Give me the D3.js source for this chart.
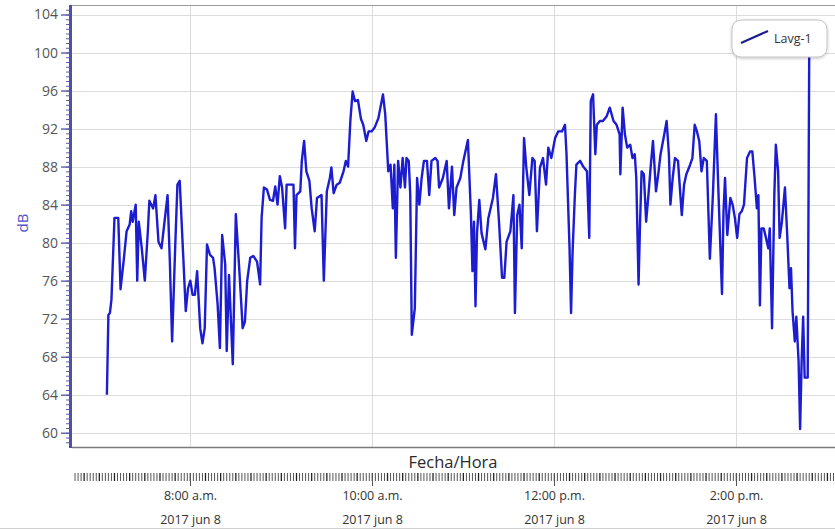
<!DOCTYPE html>
<html>
<head>
<meta charset="utf-8">
<script src="https://cdn.jsdelivr.net/npm/d3@7"></script>
<style>
  body { margin: 0; background: #fff; }
  svg { display: block; font-family: "Open Sans", sans-serif; }
</style>
</head>
<body>
<div id="chart"></div>
<script>
'use strict';

// sound level log, 8 jun 2017
// minutes = minutes after 07:00, lavg = dB
const minutes = [5,6,7,8,10,12.5,14,16,18,20,21,22,24,25,26,28,30,32,33,35.5,37,39,41,43,45,46.5,48,50,51.5,53,
  55.5,57,58.5,60,61.5,63,64.5,66.5,68,69.5,71,73,75,76,78,79.5,81,83,84,85.5,88,90,92.5,94.5,96,97.5,99.5,101.5,104,106,
  107,108.5,110.5,112.5,114.5,116,117.5,119,120.5,122.5,123.5,125.5,128,129,130,132.5,133.5,135,136.5,138.5,140,142,143.5,146.5,148,150,152,153,154.5,156.5,
  158.5,161,162.5,164,165.5,167,168.5,170.5,172.5,174,176,177.5,179.5,181.5,184,187,188.5,190.5,192,193.5,194.5,195.5,197,198.5,200,201.5,202.5,204,205,206,
  208,209.5,211,212.5,214,216,217.5,219,221.5,223,224,226.5,229,230.5,232.5,234,235.5,238,240,243,245,246,247,248,249,250.5,252,254.5,256.5,259.5,
  261.5,263.5,265.5,267,268.5,271,273,274,275.5,277,278.5,280,281.5,283.5,285.5,287,288.5,290.5,292.5,294.5,296,298,300.5,302.5,305,307,308,310,311,312,
  313.5,314.5,317,319,321.5,323,324,325.5,327,328,330,332,334.5,336.5,339,341,343,343.5,345,346.5,348,350,351.5,353,354,355.5,356.5,357.5,359,360.5,
  362,363.5,365,367,368.5,370,372,374,375.5,376.5,378,379.5,381.5,384,385.5,387,389.5,391,392.5,394,395.5,397,398.5,400.5,402.5,404.5,406.5,408,410.5,411.5,
  412.5,414,416,417.5,419,420.5,422,423.5,425,427,429,430.5,432,433.5,434.5,435.5,436.5,438,439.5,441,442,443.5,445,446,447.5,448.5,450,452,453.5,455,
  456,457,458.5,459.5,461,462,463,464,465,467,468]
const lavg = [64,72.4,72.6,74,82.6,82.6,75.1,78,81.2,81.9,83.3,82.2,84,76,82.2,79.4,76,81.2,84.4,83.6,85,80.1,79.4,82.2,85,78,69.6,79.4,86.1,86.5,
  78,72.8,75.2,76,74.5,74.5,77,71,69.4,71,79.8,78.7,78.4,77.3,73.5,68.9,80.8,77.7,68.6,76.6,67.2,83,76.6,71,71.7,76,78.4,78.6,78,75.6,
  82.6,85.8,85.6,84.5,84.4,85.9,84,87,85.8,81.5,86.1,86.1,86.1,79.4,85,85.4,88.6,90.7,87.5,86.5,83.6,81.2,84.7,85,76,85.4,86.8,87.9,85.2,86.1,
  86.3,87.5,88.6,88,92.8,95.9,94.9,95,93,92.4,90.7,91.7,91.7,92.1,93.1,95.6,93.5,87.5,88.2,83.6,88.2,78.4,88.6,85.8,88.9,85.8,88.9,88.6,85,70.3,
  73.1,86.8,84,86.8,88.6,88.6,85,88.6,88.9,88.6,85.8,86.8,88.6,83.6,88,82.9,85.8,86.8,88.6,90.8,82.9,77,82.2,73.3,81,84.5,81,79.3,82.6,84.7,
  87.2,82.2,76.3,76.3,80.1,81.2,85,72.6,82.9,84,79.4,91,87.9,85,88.9,88.6,81.2,87.9,88.9,86.1,90,88.9,91,91.7,91.7,92.4,89.3,79.4,72.6,79,
  85,88.2,88.6,88,87.5,80.5,94.9,95.6,89.3,92.4,92.8,92.8,93.3,94.2,92.8,92.4,91.4,87.2,94.2,91.4,90,90.3,88.9,89.3,86.8,75.6,82.2,87.5,87.2,82.2,
  85,88,90.7,85.4,87.2,89.3,91,92.8,89.3,84,86.8,88.9,88.6,82.9,86.1,87.2,88.2,88.9,92.4,91.7,90.7,87.5,88.9,88.6,78.3,85,93.5,86.1,74.6,83.3,
  86.8,80.8,84.7,84,82.6,80.5,83,83.3,84,88.9,89.6,89.6,86.8,83.6,85,73.4,81.5,81.5,80.5,79.4,81.5,71,85,90.3,87.5,80.5,82.2,85.8,80.8,75.2,
  77.3,72.8,69.6,72.2,67.5,60.4,67.5,72.2,65.8,65.8,100]

const yTicks = [60,64,68,72,76,80,84,88,92,96,100,104]
const xTickHours = [8,10,12,14]
const xTickLabels = ["8:00 a.m.", "10:00 a.m.", "12:00 p.m.", "2:00 p.m."]
const dateLabel = "2017 jun 8"
const seriesName = "Lavg-1"
const yLabel = "dB"
const xLabel = "Fecha/Hora"

const width = 835
const height = 529
const plot = {left: 72, right: 835, top: 5, bottom: 447}

const at = (h, m) => new Date(2017, 5, 8, h, m)
const start = at(7, 0)
const data = minutes.map((m, i) => ({t: new Date(start.getTime() + m * 60000), v: lavg[i]}))

const svg = d3.select("#chart").append("svg")
  .attr("width", width)
  .attr("height", height)

const x = d3.scaleTime()
  .domain([at(6, 42), at(15, 5)])
  .range([plot.left, plot.right])

const y = d3.scaleLinear()
  .domain([58.5, 105])
  .range([plot.bottom, plot.top])

// grid
svg.append("g")
  .selectAll("line")
  .data(yTicks)
  .enter().append("line")
  .attr("x1", plot.left).attr("x2", plot.right)
  .attr("y1", d => Math.round(y(d)) + 0.5).attr("y2", d => Math.round(y(d)) + 0.5)
  .attr("stroke", "#dcdcdc")

svg.append("g")
  .selectAll("line")
  .data(xTickHours)
  .enter().append("line")
  .attr("x1", d => Math.round(x(at(d, 0))) + 0.5).attr("x2", d => Math.round(x(at(d, 0))) + 0.5)
  .attr("y1", plot.top).attr("y2", plot.bottom)
  .attr("stroke", "#dcdcdc")

// frame top / bottom
svg.append("line")
  .attr("x1", plot.left).attr("x2", plot.right)
  .attr("y1", plot.top + 0.5).attr("y2", plot.top + 0.5)
  .attr("stroke", "#9a9a9a")
svg.append("line")
  .attr("x1", plot.left).attr("x2", plot.right)
  .attr("y1", plot.bottom + 0.5).attr("y2", plot.bottom + 0.5)
  .attr("stroke", "#7a7a7a").attr("stroke-width", 1.5)

// the trace
svg.append("clipPath").attr("id", "clip")
  .append("rect")
  .attr("x", plot.left).attr("y", plot.top)
  .attr("width", plot.right - plot.left).attr("height", plot.bottom - plot.top)

const line = d3.line()
  .x(d => x(d.t))
  .y(d => y(d.v))

svg.append("path")
  .datum(data)
  .attr("clip-path", "url(#clip)")
  .attr("fill", "none")
  .attr("stroke", "#1c1cd0")
  .attr("stroke-width", 2.4)
  .attr("stroke-linejoin", "round")
  .attr("d", line)

// y axis: minor ruler ticks + major labelled ones
const minorTicks = d3.range(59, 105, 0.5)
svg.append("g")
  .attr("transform", `translate(${plot.left - 1},0)`)
  .call(d3.axisLeft(y).tickValues(minorTicks).tickSize(5).tickFormat(""))
  .call(g => g.select(".domain").remove())
  .call(g => g.selectAll("line").attr("stroke", "#5c5cb0"))

svg.append("g")
  .attr("transform", `translate(${plot.left - 1},0)`)
  .call(d3.axisLeft(y).tickValues(yTicks).tickSize(10).tickPadding(3))
  .call(g => g.select(".domain").remove())
  .call(g => g.selectAll("line").attr("stroke", "#5c5cb0").attr("stroke-width", 1.4))
  .call(g => g.selectAll("text")
    .attr("fill", "#555")
    .style("font-family", "'Open Sans', sans-serif")
    .style("font-size", "14px"))

svg.append("line")
  .attr("x1", plot.left - 1.5).attr("x2", plot.left - 1.5)
  .attr("y1", plot.top).attr("y2", plot.bottom + 1)
  .attr("stroke", "#5050aa").attr("stroke-width", 3)

svg.append("text")
  .attr("transform", "translate(28,223) rotate(-90)")
  .attr("text-anchor", "middle")
  .attr("fill", "#5050c8")
  .style("font-size", "15px")
  .text(yLabel)

// x axis: a strip of little ticks every 2 min, long ones at the labelled hours
const stripTop = 473
const stripTicks = d3.timeMinute.every(2).range(at(6, 44), at(15, 5))
svg.append("g")
  .selectAll("line")
  .data(stripTicks)
  .enter().append("line")
  .attr("x1", d => x(d)).attr("x2", d => x(d))
  .attr("y1", stripTop)
  .attr("y2", stripTop + 8)
  .attr("stroke", d => d.getMinutes() % 10 === 0 ? "#222" : "#555")
  .attr("stroke-width", d => d.getMinutes() % 10 === 0 ? 1.3 : 1)

const hourTicks = svg.append("g")
  .selectAll("g")
  .data(xTickHours)
  .enter().append("g")
  .attr("transform", d => `translate(${Math.round(x(at(d, 0))) + 0.5},0)`)

hourTicks.append("line")
  .attr("y1", stripTop).attr("y2", stripTop + 13)
  .attr("stroke", "#555")

hourTicks.append("text")
  .attr("y", 500)
  .attr("text-anchor", "middle")
  .attr("fill", "#333")
  .style("font-size", "12.5px")
  .text((d, i) => xTickLabels[i])

hourTicks.append("text")
  .attr("y", 524)
  .attr("text-anchor", "middle")
  .attr("fill", "#333")
  .style("font-size", "12.5px")
  .text(dateLabel)

svg.append("text")
  .attr("x", 453).attr("y", 468)
  .attr("text-anchor", "middle")
  .attr("fill", "#2a2a2a")
  .style("font-size", "16.5px")
  .text(xLabel)

svg.append("line")
  .attr("x1", 0).attr("x2", width)
  .attr("y1", 528.5).attr("y2", 528.5)
  .attr("stroke", "#d0d0d0")

// legend box
const defs = svg.append("defs")
const shadow = defs.append("filter").attr("id", "shadow")
  .attr("x", "-20%").attr("y", "-20%").attr("width", "140%").attr("height", "150%")
shadow.append("feDropShadow")
  .attr("dx", 0).attr("dy", 1).attr("stdDeviation", 1.5)
  .attr("flood-color", "#000").attr("flood-opacity", 0.25)

const legend = svg.append("g").attr("transform", "translate(732,20)")
legend.append("rect")
  .attr("width", 95).attr("height", 37).attr("rx", 9)
  .attr("fill", "#fff")
  .attr("stroke", "#c4c4c4")
  .attr("filter", "url(#shadow)")
legend.append("line")
  .attr("x1", 9).attr("y1", 23).attr("x2", 36).attr("y2", 11)
  .attr("stroke", "#1e1e90").attr("stroke-width", 2.2)
legend.append("text")
  .attr("x", 42).attr("y", 23)
  .attr("fill", "#333")
  .style("font-size", "12.5px")
  .text(seriesName)
</script>
</body>
</html>
